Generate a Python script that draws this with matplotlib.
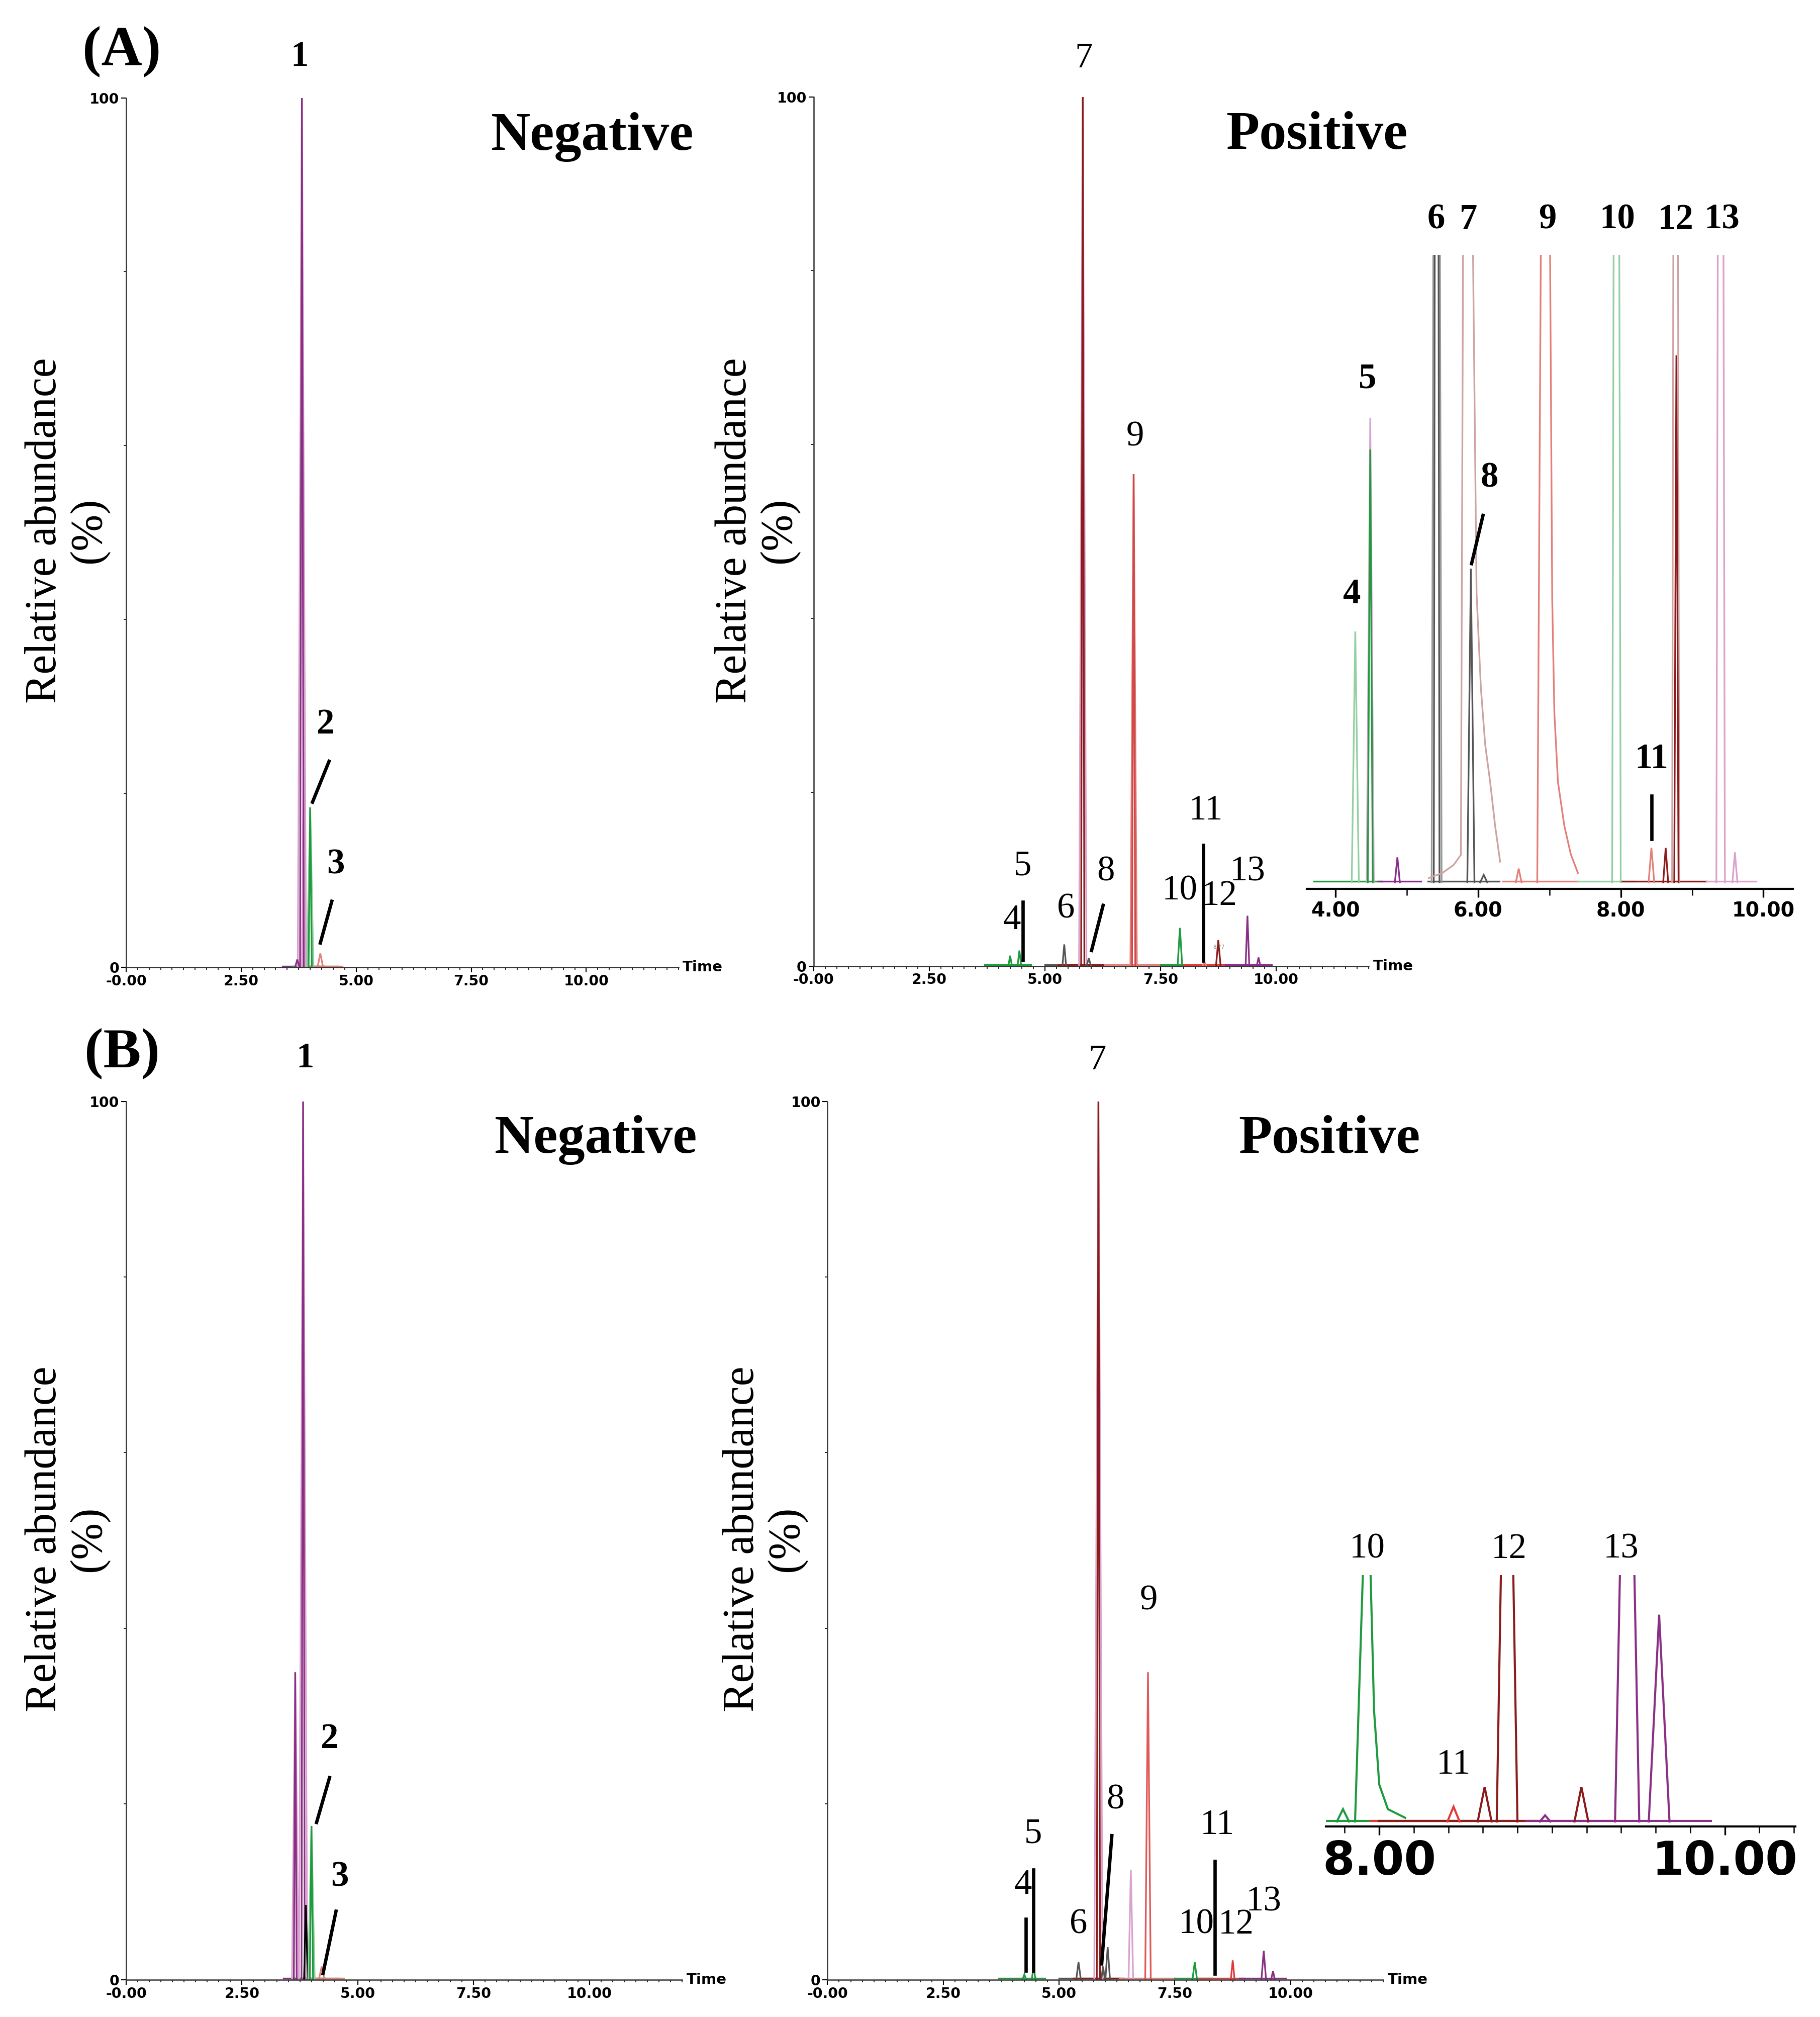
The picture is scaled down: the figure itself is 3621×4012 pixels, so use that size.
import numpy as np
import matplotlib
matplotlib.use('Agg')
import matplotlib.pyplot as plt
from matplotlib.ticker import MultipleLocator

SERIF = ['Liberation Serif', 'DejaVu Serif']
SANS = ['DejaVu Sans']

pur, pink, grn, lgrn = '#8a2f86', '#d9a3cd', '#1f9a3f', '#93cfa3'
gray, dred, sal, red, rose = '#555555', '#8b1c1c', '#e47e78', '#e23a3a', '#cfa3a3'

# ---------------- data ----------------
# main traces: retention time (min), relative abundance (%), half base width (min), colour
neg_a_rt = [3.82, 3.86, 3.82, 3.72, 4.00, 4.00, 4.22]
neg_a_h = [100, 27, 100, 0.9, 18.4, 18.4, 1.6]
neg_a_w = [0.09, 0.04, 0.04, 0.05, 0.07, 0.035, 0.06]
neg_a_col = [pink, pink, pur, pur, lgrn, grn, sal]

pos_a_rt = [4.25, 4.45, 5.42, 5.82, 5.82, 5.95, 6.92, 6.92, 7.92, 8.45, 8.75, 9.38, 9.62]
pos_a_h = [1.2, 1.8, 2.5, 100, 100, 0.9, 56.6, 56.6, 4.4, 0.5, 3.0, 5.8, 1.0]
pos_a_w = [0.04, 0.04, 0.04, 0.08, 0.035, 0.05, 0.07, 0.035, 0.05, 0.04, 0.05, 0.04, 0.04]
pos_a_col = [grn, grn, gray, pink, dred, gray, sal, '#d04848', grn, sal, dred, pur, pur]

neg_b_rt = [3.65, 3.65, 3.82, 3.82, 3.88, 4.00, 4.00, 4.22]
neg_b_h = [35, 35, 100, 100, 8.5, 17.5, 17.5, 1.5]
neg_b_w = [0.07, 0.03, 0.09, 0.035, 0.04, 0.07, 0.035, 0.06]
neg_b_col = [pink, pur, pink, pur, 'k', lgrn, grn, sal]

pos_b_rt = [4.25, 4.45, 5.42, 5.85, 5.85, 5.95, 6.05, 6.55, 6.92, 7.93, 8.75, 9.42, 9.62]
pos_b_h = [0.6, 1.5, 2.0, 100, 100, 1.5, 3.7, 12.5, 35, 2.0, 2.2, 3.3, 1.0]
pos_b_w = [0.04, 0.04, 0.05, 0.09, 0.035, 0.04, 0.05, 0.05, 0.06, 0.05, 0.04, 0.05, 0.04]
pos_b_col = [grn, grn, gray, pink, dred, gray, gray, pink, '#e05858', grn, red, pur, pur]

# zoomed insets (y in % of inset height, >100 is cut off)
ins_a_rt = [4.28, 4.49, 4.49, 4.87, 5.42, 5.42, 5.90, 6.08, 6.57, 7.94, 8.43, 8.63, 8.77, 8.78, 9.40, 9.60]
ins_a_h = [40, 74, 69, 4, 300, 300, 50, 1.2, 2.2, 300, 5.5, 5.5, 300, 84, 300, 4.8]
ins_a_w = [0.05, 0.05, 0.035, 0.035, 0.07, 0.04, 0.05, 0.05, 0.04, 0.06, 0.04, 0.035, 0.05, 0.03, 0.06, 0.035]
ins_a_col = [lgrn, pink, grn, pur, '#9a9a9a', gray, gray, gray, sal, lgrn, sal, dred, rose, dred, pink, pink]
# peaks 7 and 9 tail strongly, their traces are given point by point
p7_t = [5.31, 5.50, 5.66, 5.76, 5.79, 5.86, 5.93, 5.98, 6.04, 6.10, 6.17, 6.24, 6.31]
p7_h = [0.7, 1.5, 2.8, 4.4, 100, 300, 100, 46, 31, 22, 16, 9, 3.3]
p9_t = [6.83, 6.88, 6.945, 7.01, 7.04, 7.07, 7.12, 7.21, 7.30, 7.40]
p9_h = [0, 100, 300, 100, 45, 27, 16, 9, 4.5, 1.5]

ins_b_rt = [7.79, 8.43, 8.61, 8.74, 8.96, 9.17, 9.435, 9.62]
ins_b_h = [5, 6, 14, 250, 2.5, 14, 250, 84]
ins_b_w = [0.035, 0.035, 0.04, 0.06, 0.03, 0.04, 0.07, 0.06]
ins_b_col = [grn, red, dred, dred, pur, dred, pur, pur]
p10_t = [7.86, 7.905, 7.93, 7.95, 7.97, 8.00, 8.05, 8.15]
p10_h = [0, 100, 250, 100, 45, 15, 5, 1.5]

# baseline windows of the SIR channels
win_neg = [(3.4, 4.3, pur), (3.6, 4.6, grn), (3.8, 4.7, sal)]
win_pos = [(3.7, 4.7, grn), (5.0, 6.3, gray), (5.3, 6.4, dred), (6.3, 7.5, sal),
           (7.5, 8.3, grn), (8.0, 9.0, red), (8.9, 9.9, pur)]
win_ins_a = [(3.7, 4.65, grn), (4.6, 5.2, pur), (5.3, 6.3, gray), (6.35, 7.4, sal),
             (7.4, 8.2, lgrn), (8.0, 9.2, dred), (9.2, 9.9, pink)]
win_ins_b = [(7.69, 8.6, grn), (7.95, 8.9, red), (8.0, 9.35, dred), (8.85, 9.92, pur)]

# labels: text, x, y, optional leader line (x0, y0, x1, y1)
lab_neg_a = [('1', 3.77, 102.8, None), ('2', 4.33, 26, (4.41, 23.7, 4.05, 19)),
             ('3', 4.55, 9.9, (4.47, 7.6, 4.22, 2.8))]
lab_pos_a = [('7', 5.84, 102.5, None), ('9', 6.95, 59, None),
             ('5', 4.52, 9.6, (4.52, 7.4, 4.52, 0.7)), ('4', 4.29, 3.4, None),
             ('6', 5.46, 4.7, None), ('8', 6.32, 9.0, (6.26, 7.0, 6.01, 1.8)),
             ('10', 7.92, 6.8, None), ('11', 8.48, 16, (8.42, 13.9, 8.42, 0.6)),
             ('12', 8.78, 6.2, None), ('13', 9.38, 9.0, None)]
lab_ins_a = [('4', 4.23, 43.3, None), ('5', 4.45, 77.6, None),
             ('8', 6.16, 61.8, (6.07, 58.5, 5.91, 50.8)), ('11', 8.43, 17, (8.43, 13.8, 8.43, 6.9)),
             ('6', 5.41, 103, None), ('7', 5.87, 103, None), ('9', 6.97, 103, None),
             ('10', 7.95, 103, None), ('12', 8.77, 103, None), ('13', 9.42, 103, None)]
lab_neg_b = [('1', 3.86, 103, None), ('2', 4.39, 25.5, (4.39, 23, 4.11, 17.9)),
             ('3', 4.61, 9.8, (4.53, 7.8, 4.25, 0.7))]
lab_pos_b = [('7', 5.83, 102.8, None), ('9', 6.94, 41.3, None),
             ('8', 6.22, 18.6, (6.14, 16.4, 5.92, 1.8)), ('5', 4.44, 14.7, (4.44, 12.5, 4.44, 1.0)),
             ('4', 4.22, 8.9, (4.28, 6.9, 4.28, 1.0)), ('6', 5.42, 4.4, None),
             ('10', 7.97, 4.4, None), ('12', 8.82, 4.4, None),
             ('11', 8.42, 15.7, (8.36, 13.5, 8.36, 0.7)), ('13', 9.42, 7.0, None)]
lab_ins_b = [('10', 7.93, 104, None), ('12', 8.75, 104, None), ('13', 9.40, 104, None),
             ('11', 8.43, 16.4, None)]

main_ticks = [0, 2.5, 5, 7.5, 10]
main_ticklabels = ['-0.00', '2.50', '5.00', '7.50', '10.00']


def draw_peaks(ax, rt, h, w, col, lw=0.8):
    for r, hh, ww, c in zip(rt, h, w, col):
        ax.plot([r - ww, r, r + ww], [0, hh, 0], color=c, lw=lw, solid_joinstyle='miter')


def draw_windows(ax, wins, lw=0.8):
    for a, b, c in wins:
        ax.plot([a, b], [0.15, 0.15], color=c, lw=lw)


def put_labels(ax, labs, size=17, weight='normal'):
    for t, x, y, ln in labs:
        ax.text(x, y, t, ha='center', va='bottom', fontsize=size, fontweight=weight,
                family=SERIF, clip_on=False)
        if ln is not None:
            ax.plot([ln[0], ln[2]], [ln[1], ln[3]], color='k', lw=1.6, clip_on=False)


def style_main(ax):
    ax.set_xlim(0, 12)
    ax.set_ylim(0, 100)
    for s in ['top', 'right']:
        ax.spines[s].set_visible(False)
    for s in ['left', 'bottom']:
        ax.spines[s].set_linewidth(0.6)
        ax.spines[s].set_color('#333333')
    ax.set_xticks(main_ticks)
    ax.set_xticklabels(main_ticklabels)
    ax.xaxis.set_minor_locator(MultipleLocator(0.25))
    ax.set_yticks([0, 100])
    ax.set_yticklabels(['0', '100'])
    ax.yaxis.set_minor_locator(MultipleLocator(20))
    ax.tick_params(length=2.5, width=0.5, labelsize=6.8, pad=0.8)
    ax.tick_params(which='minor', length=1.3, width=0.4)
    for lab in ax.get_xticklabels() + ax.get_yticklabels():
        lab.set_fontweight('bold')
    ax.text(1.008, 0, 'Time', transform=ax.transAxes, ha='left', va='center',
            fontsize=7, fontweight='bold', family=SANS)


def style_inset(ax, xlim, major, minor, lsize):
    ax.set_xlim(*xlim)
    ax.set_ylim(-1, 100)
    for s in ['top', 'right', 'left']:
        ax.spines[s].set_visible(False)
    ax.spines['bottom'].set_linewidth(1.0)
    ax.set_yticks([])
    ax.set_xticks(major)
    ax.set_xticklabels(['%.2f' % v for v in major])
    ax.xaxis.set_minor_locator(MultipleLocator(minor))
    ax.tick_params(axis='x', length=4, width=0.8, labelsize=lsize, pad=2)
    ax.tick_params(axis='x', which='minor', length=3, width=0.6)
    for lab in ax.get_xticklabels():
        lab.set_fontweight('bold')
    ax.patch.set_alpha(0)


fig = plt.figure(figsize=(3621 / 300, 4012 / 300), dpi=300)

ax_na = fig.add_axes([0.0693, 0.5204, 0.3034, 0.4311])
ax_pa = fig.add_axes([0.447, 0.521, 0.305, 0.431])
ax_ia = fig.add_axes([0.718, 0.5594, 0.267, 0.3142])
ax_nb = fig.add_axes([0.0693, 0.0185, 0.3055, 0.4355])
ax_pb = fig.add_axes([0.4547, 0.0185, 0.3053, 0.4355])
ax_ib = fig.add_axes([0.7284, 0.0945, 0.2582, 0.1245])

# panel A
style_main(ax_na)
draw_windows(ax_na, win_neg)
draw_peaks(ax_na, neg_a_rt, neg_a_h, neg_a_w, neg_a_col)
put_labels(ax_na, lab_neg_a, weight='bold')
ax_na.text(0.844, 0.955, 'Negative', transform=ax_na.transAxes, ha='center', va='center',
           fontsize=26, fontweight='bold', family=SERIF)

style_main(ax_pa)
draw_windows(ax_pa, win_pos)
draw_peaks(ax_pa, pos_a_rt, pos_a_h, pos_a_w, pos_a_col)
put_labels(ax_pa, lab_pos_a)
ax_pa.text(8.76, 1.9, '8.77', ha='center', va='bottom', fontsize=2.5, color='#777777', family=SANS)
ax_pa.text(0.907, 0.955, 'Positive', transform=ax_pa.transAxes, ha='center', va='center',
           fontsize=26, fontweight='bold', family=SERIF)

style_inset(ax_ia, (3.6, 10.41), [4, 6, 8, 10], 1.0, 9.5)
draw_windows(ax_ia, win_ins_a)
draw_peaks(ax_ia, ins_a_rt, ins_a_h, ins_a_w, ins_a_col)
ax_ia.plot(p7_t, p7_h, color=rose, lw=0.8)
ax_ia.plot(p9_t, p9_h, color=sal, lw=0.8)
put_labels(ax_ia, lab_ins_a, weight='bold')

# panel B
style_main(ax_nb)
draw_windows(ax_nb, win_neg)
draw_peaks(ax_nb, neg_b_rt, neg_b_h, neg_b_w, neg_b_col)
put_labels(ax_nb, lab_neg_b, weight='bold')
ax_nb.text(0.845, 0.956, 'Negative', transform=ax_nb.transAxes, ha='center', va='center',
           fontsize=26, fontweight='bold', family=SERIF)

style_main(ax_pb)
draw_windows(ax_pb, win_pos)
draw_peaks(ax_pb, pos_b_rt, pos_b_h, pos_b_w, pos_b_col)
put_labels(ax_pb, lab_pos_b)
ax_pb.text(0.903, 0.956, 'Positive', transform=ax_pb.transAxes, ha='center', va='center',
           fontsize=26, fontweight='bold', family=SERIF)

style_inset(ax_ib, (7.69, 10.41), [8, 10], 0.2, 22)
ax_ib.set_ylim(-2, 100)
draw_windows(ax_ib, win_ins_b, lw=1.0)
draw_peaks(ax_ib, ins_b_rt, ins_b_h, ins_b_w, ins_b_col, lw=1.0)
ax_ib.plot(p10_t, p10_h, color=grn, lw=1.0)
put_labels(ax_ib, lab_ins_b)

# y labels and panel letters
for x, y in [(0.0368, 0.737), (0.416, 0.737), (0.0368, 0.237), (0.42, 0.237)]:
    fig.text(x, y, 'Relative abundance\n(%)', rotation=90, ha='center', va='center',
             multialignment='center', fontsize=21, family=SERIF, linespacing=1.1)
fig.text(0.067, 0.9745, '(A)', ha='center', va='center', fontsize=27, fontweight='bold', family=SERIF)
fig.text(0.067, 0.4777, '(B)', ha='center', va='center', fontsize=27, fontweight='bold', family=SERIF)

fig.savefig('out.png', dpi=300)
